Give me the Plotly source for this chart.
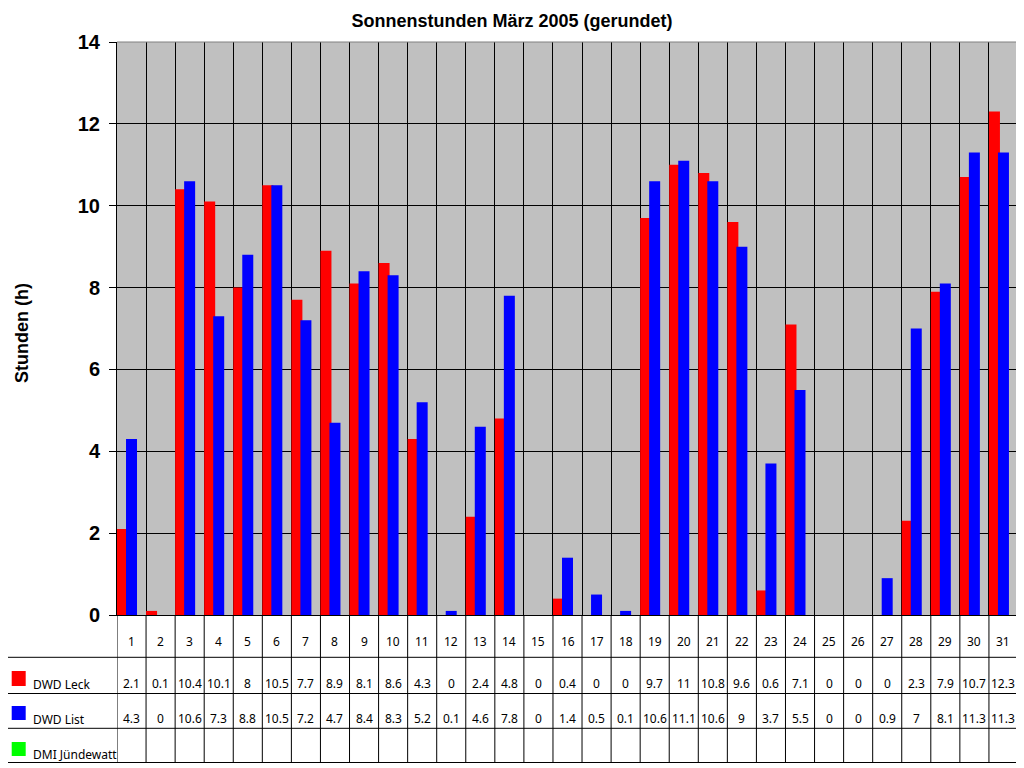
import plotly.graph_objs as go

# Sonnenstunden März 2005 (gerundet)
days = list(range(1, 32))
dwd_leck = [2.1, 0.1, 10.4, 10.1, 8, 10.5, 7.7, 8.9, 8.1, 8.6, 4.3, 0, 2.4, 4.8, 0, 0.4,
            0, 0, 9.7, 11, 10.8, 9.6, 0.6, 7.1, 0, 0, 0, 2.3, 7.9, 10.7, 12.3]
dwd_list = [4.3, 0, 10.6, 7.3, 8.8, 10.5, 7.2, 4.7, 8.4, 8.3, 5.2, 0.1, 4.6, 7.8, 0, 1.4,
            0.5, 0.1, 10.6, 11.1, 10.6, 9, 3.7, 5.5, 0, 0, 0.9, 7, 8.1, 11.3, 11.3]
dmi_juendewatt = [None] * 31

series = [("DWD Leck", dwd_leck, "#FF0000"),
          ("DWD List", dwd_list, "#0000FF"),
          ("DMI Jündewatt", dmi_juendewatt, "#00FF00")]

# page pixel geometry of the plot area; the page body has an 8px margin
OFF = 8
W, H = 1024 - OFF, 768 - OFF
L, R, T, B = 117, 1018, 42, 615
PW, PH = R - L, B - T


def py(pix):
    return (B - pix) / PH


def px(pix):
    return (pix - L) / PW


def fmt(v):
    return "" if v is None else "%g" % v


bar_w = 0.3785
step = 0.31

traces = []
for i, (name, vals, col) in enumerate(series):
    traces.append(go.Bar(x=days, y=vals, name=name, width=bar_w, offset=-0.5 + i * step,
                         marker=dict(color=col, line=dict(width=0)), showlegend=False))

fig = go.Figure(data=traces)

shapes = []
annotations = []
tfont = dict(family="Noto Sans", size=12, color="black")

# table grid: vertical lines at day boundaries
for k in range(32):
    shapes.append(dict(type="line", xref="x", yref="paper", x0=k + 0.5, x1=k + 0.5,
                       y0=py(762.5), y1=0, line=dict(color="black", width=1)))
# horizontal table lines
for yy in [657.3, 693.5, 728.3, 762.5]:
    shapes.append(dict(type="line", xref="paper", yref="paper", x0=px(6.5), x1=1,
                       y0=py(yy), y1=py(yy), line=dict(color="black", width=1)))
shapes.append(dict(type="line", xref="paper", yref="paper", x0=px(6.5), x1=px(6.5),
                   y0=py(657.3), y1=py(762.5), line=dict(color="black", width=1)))
# gray frame top / right
shapes.append(dict(type="line", xref="paper", yref="paper", x0=0, x1=1, y0=1, y1=1,
                   line=dict(color="#808080", width=1)))
shapes.append(dict(type="line", xref="paper", yref="paper", x0=1, x1=1, y0=0, y1=1,
                   line=dict(color="#808080", width=1)))

# day numbers
for d in days:
    annotations.append(dict(x=d, y=py(641), xref="x", yref="paper", text=str(d),
                            showarrow=False, font=tfont, yanchor="middle"))

row_y = [684, 719, 755]
sq_y = [(671, 686), (706, 720), (742, 756)]
for (name, vals, col), ry, (s0, s1) in zip(series, row_y, sq_y):
    shapes.append(dict(type="rect", xref="paper", yref="paper", x0=px(11.7), x1=px(25.7),
                       y0=py(s1), y1=py(s0), fillcolor=col, line=dict(width=0)))
    annotations.append(dict(x=px(30.5), y=py(ry), xref="paper", yref="paper", text=name,
                            showarrow=False, font=tfont, xanchor="left", yanchor="middle"))
    for d, v in zip(days, vals):
        if v is None:
            continue
        annotations.append(dict(x=d, y=py(ry - 1), xref="x", yref="paper", text=fmt(v),
                                showarrow=False, font=tfont, yanchor="middle"))

# y axis title
annotations.append(dict(x=px(22), y=py(333), xref="paper", yref="paper", text="Stunden (h)",
                        textangle=-90, showarrow=False, xanchor="center", yanchor="middle",
                        font=dict(family="Liberation Sans", size=18, color="black", weight="bold")))

fig.update_layout(
    width=W, height=H,
    margin=dict(l=L - OFF, r=W - (R - OFF), t=T - OFF, b=H - (B - OFF), pad=0),
    paper_bgcolor="white", plot_bgcolor="#C0C0C0",
    barmode="overlay",
    title=dict(text="Sonnenstunden März 2005 (gerundet)", x=(512 - OFF) / W, xref="container",
               y=1 - (21 - OFF) / H, yref="container", xanchor="center", yanchor="middle",
               font=dict(family="Liberation Sans", size=18, color="black", weight="bold")),
    shapes=shapes, annotations=annotations,
)
fig.update_xaxes(range=[0.5, 31.5], tick0=0.5, dtick=1, showgrid=True, gridcolor="black",
                 gridwidth=1, showticklabels=False, ticks="", zeroline=False,
                 showline=True, linecolor="black", linewidth=1, fixedrange=True)
fig.update_yaxes(range=[0, 14], dtick=2, showgrid=True, gridcolor="black", gridwidth=1,
                 ticks="outside", ticklen=7, tickcolor="black", ticklabelstandoff=5,
                 tickfont=dict(family="Liberation Sans", size=20, color="black", weight="bold"),
                 showline=True, linecolor="black", linewidth=1, zeroline=False, fixedrange=True)

fig.write_html("out.html")
